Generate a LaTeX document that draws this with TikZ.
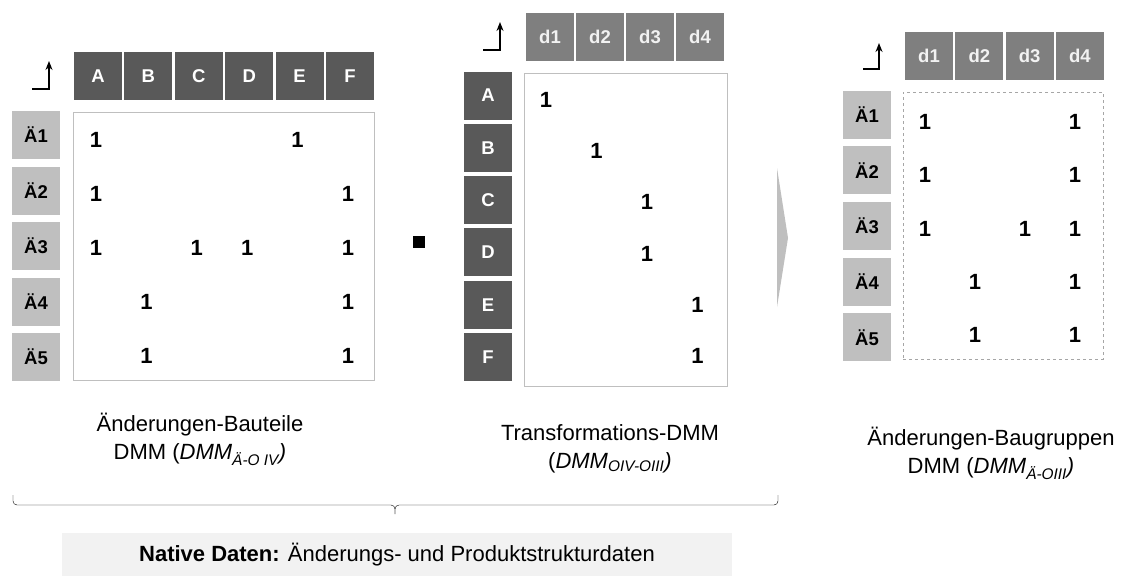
\documentclass[tikz,border=0pt]{standalone}
\usepackage{fontspec}
\setmainfont{Liberation Sans}
\usetikzlibrary{arrows.meta}

\definecolor{darkhead}{HTML}{595959}
\definecolor{midhead}{HTML}{7F7F7F}
\definecolor{lighthead}{HTML}{BFBFBF}
\definecolor{boxline}{HTML}{BFBFBF}
\definecolor{dashline}{HTML}{A6A6A6}
\definecolor{nativefill}{HTML}{F2F2F2}
\newcommand{\fsz}[1]{\fontsize{#1}{#1}\selectfont}

\tikzset{
  cell/.style={minimum width=48pt, minimum height=48pt, inner sep=0pt, font=\bfseries\fsz{18.5}},
  darkcell/.style={cell, fill=darkhead, text=white},
  midcell/.style={cell, fill=midhead, text=white!95!black},
  lightcell/.style={cell, fill=lighthead, text=black},
  one/.style={inner sep=0pt, font=\bfseries\fsz{22}},
  caption/.style={align=center, font=\fontsize{22}{28}\selectfont},
  corner/.style={->, line width=1.3pt},
}

\begin{document}
\begin{tikzpicture}[x=1pt, y=-1pt, >={Stealth[length=9pt, width=7pt]}]
  \useasboundingbox (0,0) rectangle (1123,576);

  % Aenderungen-Bauteile
  \foreach \c [count=\i from 0] in {A,B,C,D,E,F}
    \node[darkcell] (ac\c) at ({98+50.4*\i},76) {\c};
  \foreach \r in {1,...,5}
    \node[lightcell] (ar\r) at (36,{135+55.5*(\r-1)}) {Ä\r};
  \node[draw=boxline, minimum width=301pt, minimum height=268pt] (abox) at (223.5,246) {};
  \foreach \r/\c in {1/0,1/4,2/0,2/5,3/0,3/2,3/3,3/5,4/1,4/5,5/1,5/5}
    \node[one] (av\r\c) at ({96+50.4*\c},{140+54*(\r-1)}) {1};
  \coordinate (aa) at (32,89);
  \coordinate (ab) at (49,61);
  \draw[corner] (aa) -| (ab);

  \node[fill=black, minimum size=12pt, inner sep=0pt] (times) at (418.5,242) {};

  % Transformation
  \foreach \i in {1,...,4}
    \node[midcell] (tc\i) at ({550+50*(\i-1)},37) {d\i};
  \foreach \c [count=\i from 0] in {A,B,C,D,E,F}
    \node[darkcell] (tr\c) at (488,{95.5+52.3*\i}) {\c};
  \node[draw=boxline, minimum width=203pt, minimum height=313pt] (tbox) at (625.5,229.5) {};
  \foreach \r/\c in {0/0,1/1,2/2,3/2,4/3,5/3}
    \node[one] (tv\r) at ({546+50.5*\c},{100+51.2*\r}) {1};
  \coordinate (ta) at (483,50);
  \coordinate (tb) at (500,22);
  \draw[corner] (ta) -| (tb);

  \fill[lighthead] (777,168) -- (788,238) -- (777,307) -- cycle;

  % Aenderungen-Baugruppen
  \foreach \i in {1,...,4}
    \node[midcell] (gc\i) at ({929+50.3*(\i-1)},55.5) {d\i};
  \foreach \r in {1,...,5}
    \node[lightcell] (gr\r) at (867,{114.5+55.7*(\r-1)}) {Ä\r};
  \node[draw=dashline, dashed, minimum width=200pt, minimum height=267pt] (gbox) at (1003,225.5) {};
  \foreach \r/\c in {1/0,1/3,2/0,2/3,3/0,3/2,3/3,4/1,4/3,5/1,5/3}
    \node[one] (gv\r\c) at ({925+50*\c},{122+53.3*(\r-1)}) {1};
  \coordinate (ga) at (863,69);
  \coordinate (gb) at (879,43);
  \draw[corner] (ga) -| (gb);

  \node[caption] (acap) at (200,439) {Änderungen-Bauteile\\DMM (\textit{DMM\textsubscript{Ä-O IV})}};
  \node[caption] (tcap) at (610,448.5) {Transformations-DMM\\(\textit{DMM\textsubscript{OIV-OIII})}};
  \node[caption] (gcap) at (991,453.5) {Änderungen-Baugruppen\\DMM (\textit{DMM\textsubscript{Ä-OIII})}};

  % Klammer
  \coordinate (bl) at (13,495);
  \coordinate (br) at (778,495);
  \coordinate (bm) at (395,505);
  \coordinate (bt) at (395,514);
  \draw[rounded corners=4pt] (bl) |- (bm) -- (bt);
  \draw[rounded corners=4pt] (br) |- (bm) -- (bt);

  \node[fill=nativefill, minimum width=670pt, minimum height=43pt, inner sep=0pt, font=\fsz{22}]
    (native) at (397,554.5) {\textbf{Native Daten:} Änderungs- und Produktstrukturdaten};
\end{tikzpicture}
\end{document}
